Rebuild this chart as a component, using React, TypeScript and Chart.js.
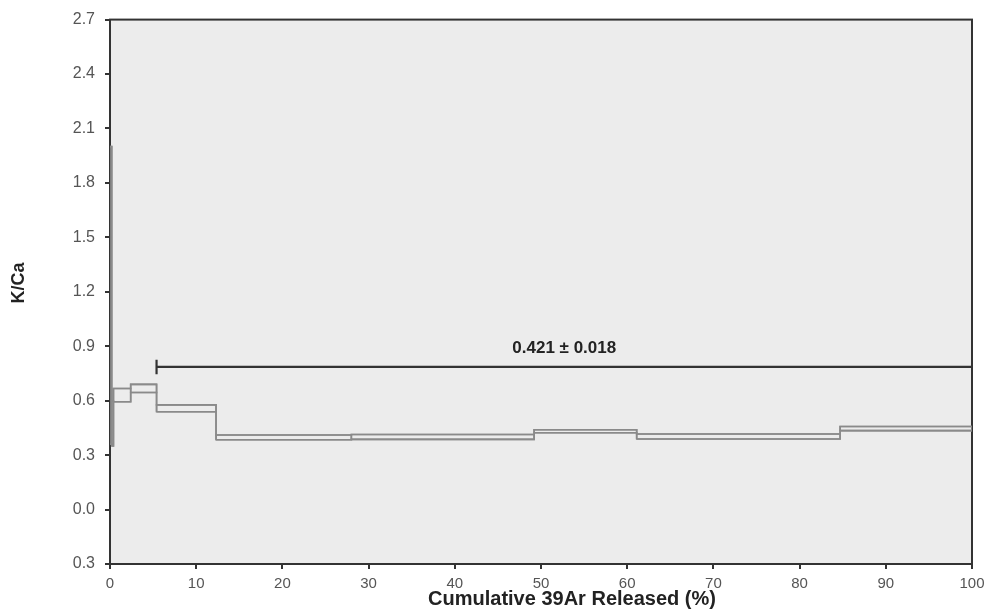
import React, { useEffect, useRef } from "react";
import { Chart, registerables } from "chart.js";

Chart.register(...registerables);

// Incremental heating steps: cumulative 39Ar release bounds (%) and K/Ca error envelope
const stepStart = [0, 0.2, 0.4, 2.4, 5.4, 12.3, 28.0, 49.2, 61.1, 84.7];
const stepEnd = [0.2, 0.4, 2.4, 5.4, 12.3, 28.0, 49.2, 61.1, 84.7, 100];
const stepLower = [0.36, 0.35, 0.594, 0.645, 0.539, 0.385, 0.387, 0.423, 0.389, 0.435];
const stepUpper = [2.0, 0.6, 0.667, 0.69, 0.577, 0.411, 0.414, 0.44, 0.416, 0.458];

// Plateau bracket
const plateauStart = 5.4;
const plateauEnd = 100;
const plateauLevel = 0.786;
const plateauCap = 0.04;
const plateauLabel = "0.421 \u00b1 0.018";

// Axis ticks
const xTickLabels = ["0", "10", "20", "30", "40", "50", "60", "70", "80", "90", "100"];
const yTickLabels = ["0.3", "0.0", "0.3", "0.6", "0.9", "1.2", "1.5", "1.8", "2.1", "2.4", "2.7"];

const xTitle = "Cumulative 39Ar Released (%)";
const yTitle = "K/Ca";

const FONT = "'Liberation Sans', Arial, sans-serif";
const STEP_COLOR = "#8a8a8a";

const framePlugin = {
  id: "frame",
  beforeDatasetsDraw(chart: any) {
    const { ctx, chartArea: a } = chart;
    ctx.save();
    ctx.fillStyle = "#ececec";
    ctx.fillRect(a.left, a.top, a.right - a.left, a.bottom - a.top);
    ctx.strokeStyle = "#333333";
    ctx.lineWidth = 2;
    ctx.strokeRect(a.left, a.top, a.right - a.left, a.bottom - a.top);
    ctx.restore();
  },
  afterDraw(chart: any) {
    const { ctx, chartArea: a, scales } = chart;
    ctx.save();
    ctx.fillStyle = "#222222";
    ctx.textAlign = "center";
    ctx.textBaseline = "middle";
    // plateau label above the bracket
    ctx.font = `bold 17px ${FONT}`;
    const lx = (scales.x.getPixelForValue(plateauStart) + scales.x.getPixelForValue(plateauEnd)) / 2;
    ctx.fillText(plateauLabel, lx, scales.y.getPixelForValue(plateauLevel) - 19);
    // axis titles
    ctx.font = `bold 20px ${FONT}`;
    ctx.fillText(xTitle, (a.left + a.right) / 2 + 31, 599);
    ctx.translate(19, 283);
    ctx.rotate(-Math.PI / 2);
    ctx.font = `bold 18px ${FONT}`;
    ctx.fillText(yTitle, 0, 0);
    ctx.restore();
  },
};

// Continuous stepped outline through the given per-step levels
function steppedOutline(levels: number[]) {
  const pts: { x: number; y: number }[] = [];
  levels.forEach((v, i) => {
    pts.push({ x: stepStart[i], y: v });
    pts.push({ x: stepEnd[i], y: v });
  });
  return pts;
}

export default function App() {
  const ref = useRef<HTMLCanvasElement>(null);

  useEffect(() => {
    document.body.style.margin = "0";
    const line = (data: { x: number; y: number }[], color: string, width: number) => ({
      data,
      borderColor: color,
      borderWidth: width,
      pointRadius: 0,
      fill: false,
      tension: 0,
    });
    const boxes = stepStart.map((s, i) =>
      line(
        [
          { x: s, y: stepLower[i] },
          { x: s, y: stepUpper[i] },
          { x: stepEnd[i], y: stepUpper[i] },
          { x: stepEnd[i], y: stepLower[i] },
          { x: s, y: stepLower[i] },
        ],
        STEP_COLOR,
        1.6
      )
    );
    const outlines = [
      line(steppedOutline(stepUpper), STEP_COLOR, 1.6),
      line(steppedOutline(stepLower), STEP_COLOR, 1.6),
    ];
    const bracket = [
      line(
        [
          { x: plateauStart, y: plateauLevel },
          { x: plateauEnd, y: plateauLevel },
        ],
        "#333333",
        2.2
      ),
      line(
        [
          { x: plateauStart, y: plateauLevel - plateauCap },
          { x: plateauStart, y: plateauLevel + plateauCap },
        ],
        "#333333",
        2.2
      ),
    ];

    const chart = new Chart(ref.current!, {
      type: "line",
      data: { datasets: [...boxes, ...outlines, ...bracket] as any },
      plugins: [framePlugin],
      options: {
        animation: false,
        responsive: false,
        devicePixelRatio: 1,
        layout: { padding: { left: 0, top: 17, right: 19, bottom: 0 } },
        plugins: { legend: { display: false }, tooltip: { enabled: false } },
        scales: {
          x: {
            type: "linear",
            min: 0,
            max: 100,
            afterFit: (s: any) => {
              s.height = 49;
            },
            ticks: {
              stepSize: 10,
              color: "#555555",
              padding: 6,
              maxRotation: 0,
              font: { family: FONT, size: 15 },
              callback: (_v: any, i: number) => xTickLabels[i],
            },
            grid: { drawOnChartArea: false, tickLength: 5, color: "#333333", lineWidth: 2 },
            border: { display: true, color: "#333333", width: 2 },
          },
          y: {
            type: "linear",
            min: -0.3,
            max: 2.7,
            afterFit: (s: any) => {
              s.width = 110;
            },
            ticks: {
              stepSize: 0.3,
              color: "#555555",
              padding: 10,
              font: { family: FONT, size: 16 },
              callback: (_v: any, i: number) => yTickLabels[i],
            },
            grid: { drawOnChartArea: false, tickLength: 5, color: "#333333", lineWidth: 2 },
            border: { display: true, color: "#333333", width: 2 },
          },
        },
      },
    });
    return () => chart.destroy();
  }, []);

  return (
    <div style={{ position: "fixed", left: 0, top: 0, width: 991, height: 613, background: "#ffffff" }}>
      <canvas ref={ref} width={991} height={613} />
    </div>
  );
}
